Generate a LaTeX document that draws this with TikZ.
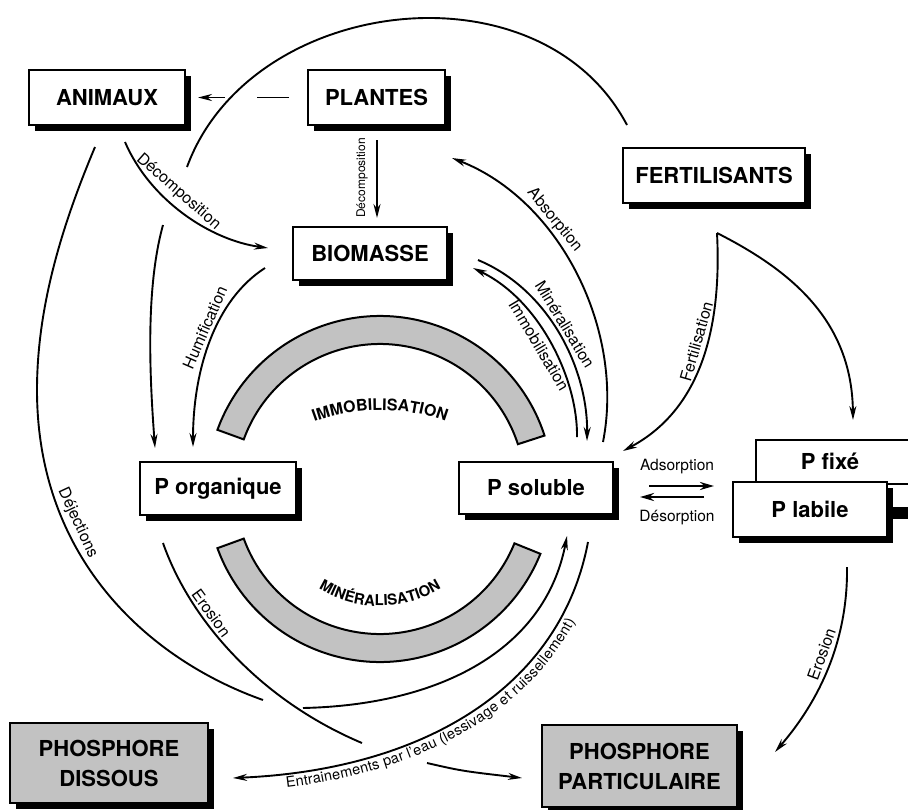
\documentclass[tikz,border=0pt]{standalone}
\usepackage{fontspec}
\setmainfont{TeX Gyre Heros}
\usetikzlibrary{arrows.meta,decorations.text,shadows,calc}
\begin{document}
\begin{tikzpicture}[x=1pt,y=-1pt,
  box/.style={draw, line width=2pt, fill=white, inner sep=0pt, align=center,
    font=\bfseries\fontsize{22}{30}\selectfont,
    drop shadow={shadow xshift=6pt, shadow yshift=-6pt, fill=black, opacity=1}},
  conn/.style={line width=1.9pt},
  arr/.style={conn, -{Stealth[length=14pt,width=7pt]}},
  lbl/.style={font=\fontsize{16}{16}\selectfont, sloped, inner sep=3pt},
  band/.style={draw, line width=2pt, fill=black!24},
]
\useasboundingbox (0,0) rectangle (908,809);

% ---------- bands ----------
\coordinate (C) at (380,489);
\coordinate (T) at (380,600);
\draw[band] ([shift={(-18:173)}]C) arc[start angle=-18, end angle=-160, radius=173]
  -- ([shift={(-160:145)}]C) arc[start angle=-160, end angle=-18, radius=145] -- cycle;
\draw[band] ([shift={(22:173)}]C) arc[start angle=22, end angle=160, radius=173]
  -- ([shift={(160:145)}]C) arc[start angle=160, end angle=22, radius=145] -- cycle;
\path[decorate, decoration={text along path, text align=center,
  text={|\bfseries\fontsize{16}{16}\selectfont|IMMOBILISATION}}]
  ([shift={(-120:190)}]T) arc[start angle=-120, end angle=-60, radius=190];
\path[decorate, decoration={text along path, text align=center,
  text={|\bfseries\fontsize{15}{15}\selectfont|MINÉRALISATION}}]
  ([shift={(150:117)}]C) arc[start angle=150, end angle=30, radius=117];

% ---------- boxes ----------
\node[box, minimum width=156pt, minimum height=55pt] (animaux) at (107,97.5) {ANIMAUX};
\node[box, minimum width=137pt, minimum height=55pt] (plantes) at (376.5,97.5) {PLANTES};
\node[box, minimum width=182pt, minimum height=55pt] (fert) at (714,175.5) {FERTILISANTS};
\node[box, minimum width=154pt, minimum height=53pt] (biomasse) at (370,253.5) {BIOMASSE};
\node[box, minimum width=156pt, minimum height=53pt] (porg) at (218,488.5) {P organique};
\node[box, minimum width=154pt, minimum height=52pt] (psol) at (536,487.5) {P soluble};
\draw[line width=2pt, fill=white] (910,440) -- (756,440) -- (756,484) -- (910,484);
\node[font=\bfseries\fontsize{22}{24}\selectfont] (pfixe) at (830,461) {P fixé};
\fill (886,507) rectangle (910,519);
\node[box, minimum width=154pt, minimum height=55pt] (plabile) at (810,509.5) {P labile};
\node[box, fill=black!24, minimum width=198pt, minimum height=80pt] (pdis) at (109,763) {PHOSPHORE\\DISSOUS};
\node[box, fill=black!24, minimum width=195pt, minimum height=82pt] (ppart) at (639.5,766) {PHOSPHORE\\PARTICULAIRE};

% ---------- connectors ----------
% big arc
\coordinate (ba1) at (187,167); \coordinate (ba2) at (627,125);
\draw[conn] (ba1) .. controls (250,-5) and (540,-40) .. (ba2);

% plantes -> animaux
\coordinate (pa1) at (257,97.5); \coordinate (pa2) at (225,97.5);
\draw[conn, shorten <=18pt] (plantes.west) -- (pa1);
\draw[arr, shorten >=12pt] (pa2) -- (animaux.east);

% plantes -> biomasse
\coordinate (pb1) at (377,140); \coordinate (pb2) at (377,218);
\draw[arr] (pb1) -- (pb2);
\node[font=\fontsize{12}{12}\selectfont, rotate=90] (lpb) at (362,178) {Décomposition};

% animaux -> biomasse
\coordinate (ab1) at (125,142); \coordinate (ab2) at (268,248);
\draw[arr] (ab1) .. controls (150,200) and (210,240) .. (ab2)
  node[lbl, above, pos=0.4, inner sep=5pt] {Décomposition};

% animaux -> P organique
\coordinate (ap1) at (163,225); \coordinate (ap2) at (155,448);
\draw[arr] (ap1) .. controls (145,290) and (150,380) .. (ap2);

% dejections
\coordinate (dj1) at (95,147); \coordinate (dj2) at (263,700);
\draw[conn] (dj1) .. controls (60,230) and (37,310) .. (37,390)
  .. controls (37,560) and (150,660) .. (dj2) node[lbl, above, pos=0.31, inner sep=4pt] {Déjections};
\coordinate (dj3) at (303,708); \coordinate (dj4) at (567,536);
\draw[arr] (dj3) .. controls (440,705) and (545,650) .. (dj4);

% erosion (P organique)
\coordinate (er1) at (163,543); \coordinate (er2) at (362,743);
\coordinate (er3) at (427,763); \coordinate (er4) at (522,778);
\draw[conn] (er1) .. controls (190,620) and (260,700) .. (er2)
  node[lbl, above, pos=0.33] {Erosion};
\draw[arr] (er3) .. controls (462,771) .. (er4);

% entrainements
\coordinate (en1) at (588,542); \coordinate (en2) at (233,778);
\draw[arr] (en1) .. controls (560,690) and (420,770) .. (en2);
\path[decorate, decoration={text along path, text align={left, left indent=52pt}, raise=-14pt,
  text={|\fontsize{14.5}{14.5}\selectfont|Entrainements par l'eau (lessivage et ruissellement)}}]
  (en2) .. controls (420,770) and (560,690) .. (en1);

% humification
\coordinate (hu1) at (265,268); \coordinate (hu2) at (193,447);
\draw[arr] (hu1) .. controls (215,300) and (193,370) .. (hu2)
  node[lbl, above, pos=0.45] {Humification};

% immobilisation / mineralisation
\coordinate (im1) at (577,437); \coordinate (im2) at (473,268);
\draw[arr] (im1) .. controls (578,380) and (540,300) .. (im2)
  node[lbl, below, pos=0.52, inner sep=4pt] {Immobilisation};
\coordinate (mi1) at (478,260); \coordinate (mi2) at (587,441);
\draw[arr] (mi1) .. controls (550,290) and (588,370) .. (mi2)
  node[lbl, above, pos=0.47] {Minéralisation};

% absorption
\coordinate (as1) at (603,442); \coordinate (as2) at (452,158);
\draw[arr] (as1) .. controls (625,330) and (560,200) .. (as2)
  node[lbl, above, pos=0.66] {Absorption};

% fertilisation
\coordinate (fk) at (717,233); \coordinate (fe2) at (623,451); \coordinate (fe3) at (853,420);
\draw[arr] (fk) .. controls (722,330) and (700,410) .. (fe2)
  node[lbl, above, pos=0.42, inner sep=4pt] {Fertilisation};
\draw[arr] (fk) .. controls (790,270) and (852,320) .. (fe3);

% erosion (P labile)
\coordinate (eb1) at (847,567); \coordinate (eb2) at (775,752);
\draw[arr] (eb1) .. controls (848,640) and (820,700) .. (eb2)
  node[lbl, above, pos=0.45, inner sep=4pt] {Erosion};

% adsorption / desorption
\coordinate (ad1) at (649,486); \coordinate (ad2) at (714,486);
\coordinate (de1) at (704,497); \coordinate (de2) at (640,497);
\draw[conn, line width=2.6pt, -{Stealth[length=14pt,width=8pt]}] (ad1) -- (ad2);
\draw[conn, line width=2.6pt, -{Stealth[length=14pt,width=8pt]}] (de1) -- (de2);
\node[font=\fontsize{15.5}{15.5}\selectfont] (lad) at (677,467) {Adsorption};
\node[font=\fontsize{15.5}{15.5}\selectfont] (lde) at (677,518) {Désorption};
\end{tikzpicture}
\end{document}
